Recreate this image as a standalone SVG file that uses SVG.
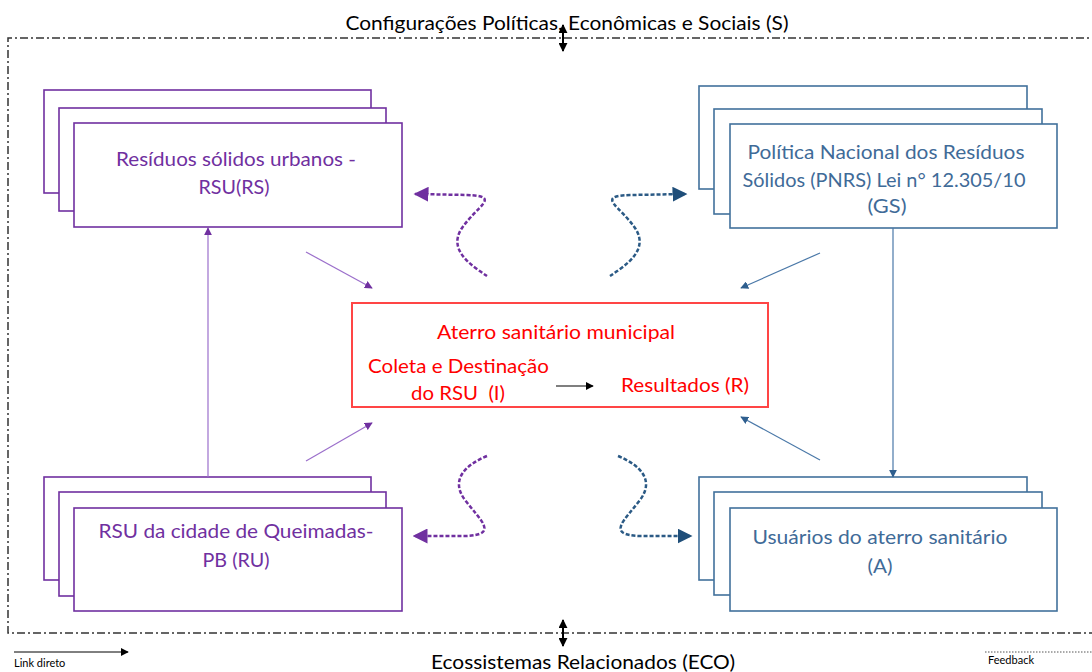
<svg xmlns="http://www.w3.org/2000/svg" width="1092" height="672" viewBox="0 0 1092 672">
<style>
text{font-family:Lato,"Open Sans","Liberation Sans",sans-serif}
.pbox{fill:#fff;stroke:#7030A0;stroke-width:1.6}
.bbox{fill:#fff;stroke:#41719C;stroke-width:1.6}
.pt{fill:#7030A0;font-size:19px;text-anchor:middle}
.bt{fill:#3F6B98;font-size:19px;text-anchor:middle}
.rt{fill:#FF0000;font-size:19px}
.border{fill:none;stroke:#333;stroke-width:1.5;stroke-dasharray:8 3 2 3}
.thinp{stroke:#9B6FCB;stroke-width:1.2;fill:none}
.thinb{stroke:#4A78A8;stroke-width:1.2;fill:none}
.wavep{stroke:#7030A0;stroke-width:2.5;fill:none;stroke-dasharray:4 2}
.waveb{stroke:#2B5A85;stroke-width:2.5;fill:none;stroke-dasharray:4 2}
</style>
<defs>
<marker id="mp" viewBox="0 0 10 10" refX="9" refY="5" markerWidth="8" markerHeight="8" orient="auto" markerUnits="userSpaceOnUse"><path d="M0,0 L10,5 L0,10 z" fill="#7030A0"/></marker>
<marker id="mb" viewBox="0 0 10 10" refX="9" refY="5" markerWidth="8" markerHeight="8" orient="auto" markerUnits="userSpaceOnUse"><path d="M0,0 L10,5 L0,10 z" fill="#2F5F8F"/></marker>
<marker id="mpw" viewBox="0 0 10 10" refX="9" refY="5" markerWidth="15" markerHeight="15" orient="auto" markerUnits="userSpaceOnUse"><path d="M0,0 L10,5 L0,10 z" fill="#7030A0"/></marker>
<marker id="mbw" viewBox="0 0 10 10" refX="9" refY="5" markerWidth="15" markerHeight="15" orient="auto" markerUnits="userSpaceOnUse"><path d="M0,0 L10,5 L0,10 z" fill="#1F4E79"/></marker>
<marker id="mk" viewBox="0 0 10 10" refX="9" refY="5" markerWidth="8" markerHeight="8" orient="auto" markerUnits="userSpaceOnUse"><path d="M0,0 L10,5 L0,10 z" fill="#000"/></marker>
<marker id="md" viewBox="0 0 10 10" refX="9" refY="5" markerWidth="9" markerHeight="9" orient="auto-start-reverse" markerUnits="userSpaceOnUse"><path d="M0,0 L10,5 L0,10 z" fill="#000"/></marker>
</defs>
<rect width="1092" height="672" fill="#fff"/>

<!-- outer border -->
<path class="border" d="M1100,38 L8,38 L8,633 L1100,633"/>

<text x="567" y="30" font-size="19" text-anchor="middle" fill="#000" textLength="443" lengthAdjust="spacingAndGlyphs">Configurações Políticas, Econômicas e Sociais (S)</text>
<text x="583" y="669" font-size="19" text-anchor="middle" fill="#000" textLength="304" lengthAdjust="spacingAndGlyphs">Ecossistemas Relacionados (ECO)</text>

<!-- legend -->
<g id="legend">
<line x1="14" y1="652" x2="128" y2="652" stroke="#000" stroke-width="1" marker-end="url(#mk)"/>
<text x="14" y="667" font-size="11" fill="#000">Link direto</text>
<line x1="985" y1="652" x2="1092" y2="652" stroke="#555" stroke-width="1" stroke-dasharray="1.5 1.5"/>
<text x="988" y="664" font-size="11" fill="#000">Feedback</text>
</g>

<!-- nodes -->
<g id="node-RS">
<rect class="pbox" x="44" y="90" width="327" height="103"/>
<rect class="pbox" x="59" y="108" width="327" height="103"/>
<rect class="pbox" x="74" y="123" width="328" height="104"/>
<text class="pt" x="236" y="166" textLength="240" lengthAdjust="spacingAndGlyphs">Resíduos sólidos urbanos -</text>
<text class="pt" x="234" y="194" textLength="71" lengthAdjust="spacingAndGlyphs">RSU(RS)</text>
</g>

<g id="node-GS">
<rect class="bbox" x="699" y="86" width="328" height="103"/>
<rect class="bbox" x="714" y="109" width="328" height="105"/>
<rect class="bbox" x="730" y="124" width="327" height="104"/>
<text class="bt" x="886" y="159" textLength="277" lengthAdjust="spacingAndGlyphs">Política Nacional dos Resíduos</text>
<text class="bt" x="884" y="187" textLength="283" lengthAdjust="spacingAndGlyphs">Sólidos (PNRS) Lei n° 12.305/10</text>
<text class="bt" x="887" y="213" textLength="39" lengthAdjust="spacingAndGlyphs">(GS)</text>
</g>

<g id="node-center">
<rect x="352" y="303" width="416" height="104" fill="#fff" stroke="#FF4545" stroke-width="2"/>
<text class="rt" x="556" y="339" text-anchor="middle" textLength="238" lengthAdjust="spacingAndGlyphs">Aterro sanitário municipal</text>
<text class="rt" x="368" y="373" textLength="181" lengthAdjust="spacingAndGlyphs">Coleta e Destinação</text>
<text class="rt" x="411" y="400" textLength="94" lengthAdjust="spacingAndGlyphs" xml:space="preserve">do RSU  (I)</text>
<text class="rt" x="621" y="392" textLength="128" lengthAdjust="spacingAndGlyphs">Resultados (R)</text>
<line x1="556" y1="386" x2="593" y2="386" stroke="#000" stroke-width="1.2" marker-end="url(#mk)"/>
</g>

<g id="node-RU">
<rect class="pbox" x="44" y="477" width="327" height="103"/>
<rect class="pbox" x="59" y="492" width="327" height="104"/>
<rect class="pbox" x="74" y="508" width="328" height="103"/>
<text class="pt" x="236" y="538" textLength="275" lengthAdjust="spacingAndGlyphs">RSU da cidade de Queimadas-</text>
<text class="pt" x="236" y="567" textLength="67" lengthAdjust="spacingAndGlyphs">PB (RU)</text>
</g>

<g id="node-A">
<rect class="bbox" x="699" y="477" width="328" height="103"/>
<rect class="bbox" x="714" y="492" width="328" height="103"/>
<rect class="bbox" x="730" y="508" width="327" height="103"/>
<text class="bt" x="880" y="544" textLength="255" lengthAdjust="spacingAndGlyphs">Usuários do aterro sanitário</text>
<text class="bt" x="880" y="573" textLength="25" lengthAdjust="spacingAndGlyphs">(A)</text>
</g>

<!-- connectors -->
<g id="connectors">
<line x1="208" y1="477" x2="208" y2="228" class="thinp" marker-end="url(#mp)"/>
<line x1="893" y1="228" x2="893" y2="477" class="thinb" stroke="#41719C" marker-end="url(#mb)"/>
<line x1="306" y1="252" x2="372" y2="288" class="thinp" marker-end="url(#mp)"/>
<line x1="306" y1="461" x2="372" y2="423" class="thinp" marker-end="url(#mp)"/>
<line x1="820" y1="253" x2="741" y2="288" class="thinb" marker-end="url(#mb)"/>
<line x1="820" y1="460" x2="741" y2="417" class="thinb" marker-end="url(#mb)"/>

<path class="wavep" d="M487,276 C472,266 447,250 462,228 C477,206 502,196 467,195 L415,194" marker-end="url(#mpw)"/>
<path class="waveb" d="M610,276 C625,266 650,250 635,228 C620,206 595,196 630,195 L686,194" marker-end="url(#mbw)"/>
<path class="wavep" d="M487,456 C465,465 450,480 465,500 C480,520 500,535 465,536 L414,536" marker-end="url(#mpw)"/>
<path class="waveb" d="M618,456 C640,465 655,480 640,500 C625,520 605,535 640,536 L691,536" marker-end="url(#mbw)"/>

<line x1="563" y1="25" x2="563" y2="51" stroke="#000" stroke-width="2" marker-start="url(#md)" marker-end="url(#md)"/>
<line x1="563" y1="620" x2="563" y2="646" stroke="#000" stroke-width="2" marker-start="url(#md)" marker-end="url(#md)"/>
</g>
</svg>
